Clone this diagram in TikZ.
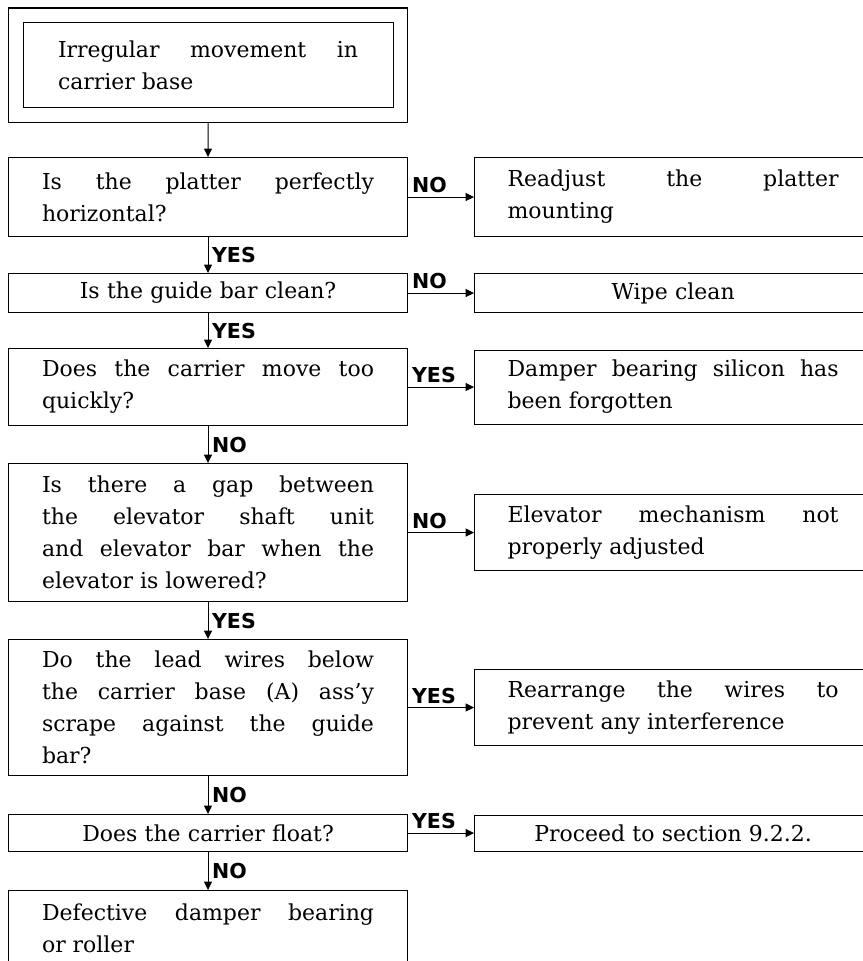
\documentclass[tikz,border=0pt]{standalone}
\usepackage{fontspec}
\setmainfont{DejaVu Serif}
\setsansfont{DejaVu Sans}
\usetikzlibrary{positioning,fit,arrows.meta}

\begin{document}
\begin{tikzpicture}[
    font=\fontsize{12.5}{18.2}\selectfont,
    qbox/.style={draw, line width=0.6pt, anchor=north west, text width=6.64cm, inner xsep=0.67cm, inner ysep=0pt, align=justify},
    abox/.style={draw, line width=0.6pt, text width=6.62cm, inner xsep=0.66cm, inner ysep=0pt, align=justify},
    arr/.style={line width=0.6pt, -{Triangle[length=1.7mm,width=1.6mm]}},
    ans/.style={font=\sffamily\bfseries\fontsize{11.7}{12}\selectfont, inner sep=2pt}]
	\useasboundingbox (0,0) rectangle (17.26,-19.22);
	\clip (0,0) rectangle (17.26,-19.22);

	% --- Start ---
	\node[qbox, text width=6.0cm, inner xsep=0.7cm, minimum height=1.7cm] (start) at (0.45,-0.44) {Irregular movement in\linebreak carrier base};
	\node[draw, line width=0.6pt, fit=(start), inner sep=0.28cm] (frame) {};

	% --- Questions ---
	\node[qbox, minimum height=1.58cm] (q2) at (0.16,-3.14) {Is the platter perfectly\linebreak horizontal?};
	\node[qbox, minimum height=0.78cm, align=center] (q3) at (0.16,-5.46) {Is the guide bar clean?};
	\node[qbox, minimum height=1.54cm] (q4) at (0.16,-6.96) {Does the carrier move too\linebreak quickly?};
	\node[qbox, minimum height=2.76cm] (q5) at (0.16,-9.26) {Is there a gap between\linebreak the elevator shaft unit\linebreak and elevator bar when the\linebreak elevator is lowered?};
	\node[qbox, minimum height=2.72cm] (q6) at (0.16,-12.78) {Do the lead wires below\linebreak the carrier base (A) ass’y\linebreak scrape against the guide\linebreak bar?};
	\node[qbox, minimum height=0.74cm, align=center] (q7) at (0.16,-16.28) {Does the carrier float?};
	\node[qbox, minimum height=1.52cm] (q8) at (0.16,-17.80) {Defective damper bearing\linebreak or roller};

	% --- Actions ---
	\node[abox, minimum height=1.58cm, right=1.32cm of q2] (a2) {Readjust the platter\linebreak mounting};
	\node[abox, minimum height=0.78cm, align=center, right=1.32cm of q3] (a3) {Wipe clean};
	\node[abox, minimum height=1.48cm, right=1.32cm of q4] (a4) {Damper bearing silicon has\linebreak been forgotten};
	\node[abox, minimum height=1.52cm, right=1.32cm of q5] (a5) {Elevator mechanism not\linebreak properly adjusted};
	\node[abox, minimum height=1.52cm, right=1.32cm of q6] (a6) {Rearrange the wires to\linebreak prevent any interference};
	\node[abox, minimum height=0.72cm, align=center, right=1.32cm of q7] (a7) {Proceed to section 9.2.2.};

	% --- Arrows ---
	\draw[arr] (frame) -- (q2);
	\draw[arr] (q2) -- node[ans, midway, right]{YES} (q3);
	\draw[arr] (q3) -- node[ans, midway, right]{YES} (q4);
	\draw[arr] (q4) -- node[ans, midway, right]{NO} (q5);
	\draw[arr] (q5) -- node[ans, midway, right]{YES} (q6);
	\draw[arr] (q6) -- node[ans, midway, right]{NO} (q7);
	\draw[arr] (q7) -- node[ans, midway, right]{NO} (q8);

	\draw[arr] (q2) -- node[ans, pos=0, anchor=south west]{NO} (a2);
	\draw[arr] (q3) -- node[ans, pos=0, anchor=south west]{NO} (a3);
	\draw[arr] (q4) -- node[ans, pos=0, anchor=south west]{YES} (a4);
	\draw[arr] (q5) -- node[ans, pos=0, anchor=south west]{NO} (a5);
	\draw[arr] (q6) -- node[ans, pos=0, anchor=south west]{YES} (a6);
	\draw[arr] (q7) -- node[ans, pos=0, anchor=south west]{YES} (a7);
\end{tikzpicture}
\end{document}
